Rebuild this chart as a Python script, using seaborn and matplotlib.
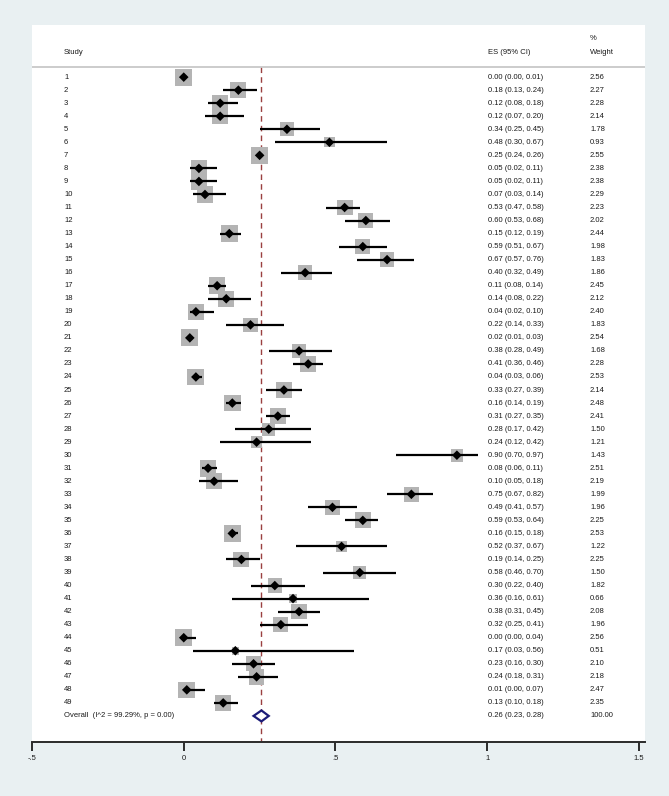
import numpy as np
import pandas as pd
import matplotlib
matplotlib.use("Agg")
import matplotlib.pyplot as plt
import seaborn as sns

# study data
study = [str(i) for i in range(1, 50)]
es = [0.00, 0.18, 0.12, 0.12, 0.34, 0.48, 0.25, 0.05, 0.05, 0.07,
      0.53, 0.60, 0.15, 0.59, 0.67, 0.40, 0.11, 0.14, 0.04, 0.22,
      0.02, 0.38, 0.41, 0.04, 0.33, 0.16, 0.31, 0.28, 0.24, 0.90,
      0.08, 0.10, 0.75, 0.49, 0.59, 0.16, 0.52, 0.19, 0.58, 0.30,
      0.36, 0.38, 0.32, 0.00, 0.17, 0.23, 0.24, 0.01, 0.13]
ci_lo = [0.00, 0.13, 0.08, 0.07, 0.25, 0.30, 0.24, 0.02, 0.02, 0.03,
         0.47, 0.53, 0.12, 0.51, 0.57, 0.32, 0.08, 0.08, 0.02, 0.14,
         0.01, 0.28, 0.36, 0.03, 0.27, 0.14, 0.27, 0.17, 0.12, 0.70,
         0.06, 0.05, 0.67, 0.41, 0.53, 0.15, 0.37, 0.14, 0.46, 0.22,
         0.16, 0.31, 0.25, 0.00, 0.03, 0.16, 0.18, 0.00, 0.10]
ci_hi = [0.01, 0.24, 0.18, 0.20, 0.45, 0.67, 0.26, 0.11, 0.11, 0.14,
         0.58, 0.68, 0.19, 0.67, 0.76, 0.49, 0.14, 0.22, 0.10, 0.33,
         0.03, 0.49, 0.46, 0.06, 0.39, 0.19, 0.35, 0.42, 0.42, 0.97,
         0.11, 0.18, 0.82, 0.57, 0.64, 0.18, 0.67, 0.25, 0.70, 0.40,
         0.61, 0.45, 0.41, 0.04, 0.56, 0.30, 0.31, 0.07, 0.18]
weight = [2.56, 2.27, 2.28, 2.14, 1.78, 0.93, 2.55, 2.38, 2.38, 2.29,
          2.23, 2.02, 2.44, 1.98, 1.83, 1.86, 2.45, 2.12, 2.40, 1.83,
          2.54, 1.68, 2.28, 2.53, 2.14, 2.48, 2.41, 1.50, 1.21, 1.43,
          2.51, 2.19, 1.99, 1.96, 2.25, 2.53, 1.22, 2.25, 1.50, 1.82,
          0.66, 2.08, 1.96, 2.56, 0.51, 2.10, 2.18, 2.47, 2.35]
overall_es, overall_lo, overall_hi = 0.256, 0.23, 0.28
overall_label = "Overall  (I^2 = 99.29%, p = 0.00)"
xticks = [-0.5, 0, 0.5, 1, 1.5]
xtick_labels = ["-.5", "0", ".5", "1", "1.5"]

df = pd.DataFrame({"study": study, "es": es, "lo": ci_lo, "hi": ci_hi, "w": weight})
df["row"] = np.arange(1, len(df) + 1)
overall_row = len(df) + 1

sns.set_theme(style="white")
plt.rcParams["font.family"] = ["Liberation Sans", "DejaVu Sans"]
fs = 5.5
txt = "#1a1a1a"
bg = "#e9f0f2"

fig = plt.figure(figsize=(6.69, 7.96), dpi=100, facecolor=bg)
W, H = 669, 796
ax = fig.add_axes([32 / W, (H - 742) / H, (645 - 32) / W, (742 - 25) / H])
ax.set_facecolor("white")
ax.set_xlim(-0.5, 1.5198)
ax.set_ylim(52, -3)

# reference line at the pooled estimate
ax.plot([overall_es, overall_es], [0.22, 52], color="#9a4040", lw=1.0,
        linestyle=(0, (4, 3)), zorder=1)
# header separator
ax.axhline(0.22, color="#c4c4c4", lw=1.2, zorder=1)

# weight boxes (area proportional to weight)
sns.scatterplot(data=df, x="es", y="row", size="w", sizes=(0, 150), size_norm=(0, 2.56),
                marker="s", color="#b4b4b4", edgecolor="none", linewidth=0,
                legend=False, ax=ax, zorder=2)
# confidence intervals
ax.hlines(df["row"], df["lo"], df["hi"], color="black", lw=1.6, zorder=3)
# point estimates
sns.scatterplot(data=df, x="es", y="row", marker="D", s=24, color="black",
                edgecolor="none", legend=False, ax=ax, zorder=4)

# overall diamond
h = 0.42
ax.fill([overall_lo, overall_es, overall_hi, overall_es],
        [overall_row, overall_row - h, overall_row, overall_row + h],
        facecolor="white", edgecolor="#1c1c78", lw=1.6, zorder=5)

# text columns
tr = ax.get_yaxis_transform()
x_study, x_es, x_w = (64 - 32) / 613, (488 - 32) / 613, (590 - 32) / 613
kw = dict(transform=tr, fontsize=fs, va="center", ha="left", color=txt)
ax.text(x_study, -0.92, "Study", **kw)
ax.text(x_es, -0.92, "ES (95% CI)", **kw)
ax.text(x_w, -1.99, "%", **kw)
ax.text(x_w, -0.92, "Weight", **kw)
for _, r in df.iterrows():
    ax.text(x_study, r["row"], r["study"], **kw)
    ax.text(x_es, r["row"], f"{r['es']:.2f} ({r['lo']:.2f}, {r['hi']:.2f})", **kw)
    ax.text(x_w, r["row"], f"{r['w']:.2f}", **kw)
ax.text(x_study, overall_row, overall_label, **kw)
ax.text(x_es, overall_row, f"{overall_es:.2f} ({overall_lo:.2f}, {overall_hi:.2f})", **kw)
ax.text(x_w, overall_row, "100.00", **kw)

# axis
for s in ["top", "left", "right"]:
    ax.spines[s].set_visible(False)
ax.spines["bottom"].set_color("#2b2b2b")
ax.spines["bottom"].set_linewidth(1.4)
ax.set_xticks(xticks)
ax.set_xticklabels(xtick_labels)
ax.set_yticks([])
ax.tick_params(axis="x", direction="out", length=6.5, width=1.4, color="#2b2b2b",
               labelsize=fs, labelcolor=txt, pad=3, bottom=True)
ax.set_xlabel("")
ax.set_ylabel("")

fig.savefig("out.png", dpi=100, facecolor=bg)
